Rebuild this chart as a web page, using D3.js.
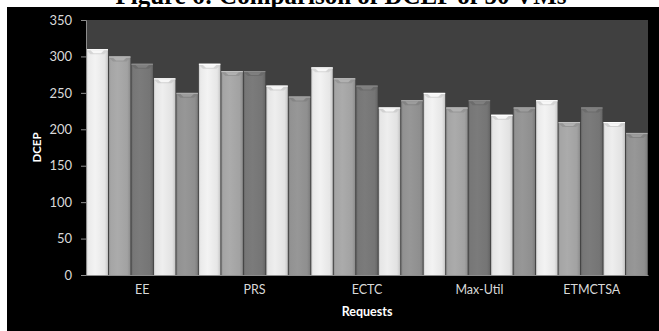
<!DOCTYPE html>
<html>
<head>
<meta charset="utf-8">
<script src="https://cdn.jsdelivr.net/npm/d3@7"></script>
<style>
  html, body { margin: 0; padding: 0; background: #ffffff; }
  svg { display: block; }
</style>
</head>
<body>
<svg id="chart" width="659" height="331"></svg>
<script>
// DCEP per request-scheduling approach, five runs per approach
const categories = ["EE", "PRS", "ECTC", "Max-Util", "ETMCTSA"];
const seriesNames = ["Run 1", "Run 2", "Run 3", "Run 4", "Run 5"];
const run1 = [310, 290, 285, 250, 240];
const run2 = [300, 280, 270, 230, 210];
const run3 = [290, 280, 260, 240, 230];
const run4 = [270, 260, 230, 220, 210];
const run5 = [250, 245, 240, 230, 195];
const yTicks = [0, 50, 100, 150, 200, 250, 300, 350];
const seriesColors = ["#e6e6e6", "#a2a2a2", "#757575", "#e2e2e2", "#8f8f8f"];

const runs = [run1, run2, run3, run4, run5];

const svg = d3.select("#chart");
const W = 659, H = 331;
const plot = { left: 86, right: 648, top: 20, bottom: 275 };

// page strip with the figure caption, then the black chart frame
svg.append("rect").attr("width", W).attr("height", H).attr("fill", "#ffffff");
svg.append("text")
  .attr("x", 341).attr("y", 4)
  .attr("text-anchor", "middle")
  .attr("font-family", "Liberation Serif, Times New Roman, serif")
  .attr("font-weight", "bold")
  .attr("font-size", 25)
  .attr("fill", "#000")
  .text("Figure 6: Comparison of DCEP of 50 VMs");
svg.append("rect").attr("x", 7).attr("y", 7).attr("width", W - 7).attr("height", H - 7).attr("fill", "#000");

// plot background
svg.append("rect")
  .attr("x", plot.left).attr("y", plot.top)
  .attr("width", plot.right - plot.left).attr("height", plot.bottom - plot.top)
  .attr("fill", "#404040");

const x0 = d3.scaleBand().domain(categories).range([plot.left, plot.right]).paddingInner(0).paddingOuter(0);
const x1 = d3.scaleBand().domain(seriesNames).range([0, x0.bandwidth()]).padding(0);
const y = d3.scaleLinear().domain([0, 350]).range([plot.bottom, plot.top]);

// cylindrical shading per series
const defs = svg.append("defs");
seriesColors.forEach((c, i) => {
  const base = d3.color(c);
  const g = defs.append("linearGradient").attr("id", "grad" + i)
    .attr("x1", "0%").attr("x2", "100%").attr("y1", "0%").attr("y2", "0%");
  const stops = [
    [0, base.darker(0.35)],
    [0.08, base.brighter(0.05)],
    [0.4, base.brighter(0.15)],
    [0.85, base],
    [0.95, base.darker(0.25)],
    [1, base.darker(0.5)]
  ];
  stops.forEach(([o, col]) => g.append("stop").attr("offset", o).attr("stop-color", col));
});

const data = [];
categories.forEach((cat, ci) => {
  seriesNames.forEach((s, si) => {
    data.push({ cat, s, si, v: runs[si][ci] });
  });
});

const bars = svg.append("g");
const barGap = 1;
data.forEach(d => {
  const bx = x0(d.cat) + x1(d.s) + barGap / 2;
  const bw = x1.bandwidth() - barGap;
  const by = y(d.v);
  const bh = plot.bottom - by;
  const base = d3.color(seriesColors[d.si]);
  bars.append("rect")
    .attr("x", bx).attr("y", by).attr("width", bw).attr("height", bh)
    .attr("fill", `url(#grad${d.si})`);
  // bevelled top edge
  bars.append("rect")
    .attr("x", bx).attr("y", by).attr("width", bw).attr("height", 1.2)
    .attr("fill", base.brighter(0.5));
  bars.append("path")
    .attr("d", `M${bx},${by + 1.2} L${bx + bw},${by + 1.2} L${bx + bw - 4},${by + 5} L${bx + 4},${by + 5} Z`)
    .attr("fill", base.darker(0.3))
    .attr("opacity", 0.8);
  bars.append("path")
    .attr("d", `M${bx + 4},${by + 1.2} L${bx + bw - 4},${by + 1.2} L${bx + bw - 7},${by + 4} L${bx + 7},${by + 4} Z`)
    .attr("fill", base.brighter(0.35))
    .attr("opacity", 0.8);
});

// axes
const fontFam = "Lato, 'Open Sans', sans-serif";
const yAxis = svg.append("g")
  .attr("transform", `translate(${plot.left},0)`)
  .call(d3.axisLeft(y).tickValues(yTicks).tickSize(5).tickPadding(9));
yAxis.select(".domain").attr("stroke", "#8c8c8c");
yAxis.selectAll(".tick line").attr("stroke", "#8c8c8c");
yAxis.selectAll(".tick text")
  .attr("fill", "#d9d9d9").attr("font-family", fontFam).attr("font-size", 13);

const xAxis = svg.append("g")
  .attr("transform", `translate(0,${plot.bottom})`)
  .call(d3.axisBottom(x0).tickSize(0).tickPadding(10));
xAxis.select(".domain").attr("stroke", "#8c8c8c");
xAxis.selectAll(".tick text")
  .attr("fill", "#d9d9d9").attr("font-family", fontFam).attr("font-size", 12.5);

svg.append("text")
  .attr("x", (plot.left + plot.right) / 2).attr("y", 316)
  .attr("text-anchor", "middle")
  .attr("font-family", fontFam).attr("font-weight", "bold").attr("font-size", 12.5)
  .attr("fill", "#ffffff")
  .text("Requests");

svg.append("text")
  .attr("transform", `translate(41,${(plot.top + plot.bottom) / 2}) rotate(-90)`)
  .attr("text-anchor", "middle")
  .attr("font-family", fontFam).attr("font-weight", "bold").attr("font-size", 11.5)
  .attr("fill", "#ffffff")
  .text("DCEP");
</script>
</body>
</html>
